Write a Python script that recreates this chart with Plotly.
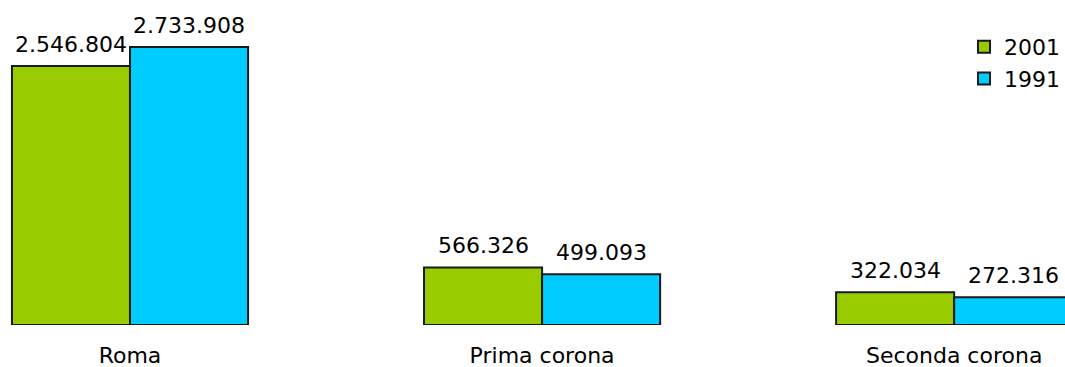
import plotly.graph_objects as go

categories = ["Roma", "Prima corona", "Seconda corona"]
values_2001 = [2546804, 566326, 322034]
values_1991 = [2733908, 499093, 272316]
labels_2001 = ["2.546.804", "566.326", "322.034"]
labels_1991 = ["2.733.908", "499.093", "272.316"]

FONT = "Verdana, DejaVu Sans, sans-serif"

fig = go.Figure()
fig.add_trace(go.Bar(
    name="2001", x=categories, y=values_2001,
    marker=dict(color="#99CC00", line=dict(color="#1a1a1a", width=2)),
))
fig.add_trace(go.Bar(
    name="1991", x=categories, y=values_1991,
    marker=dict(color="#00CCFF", line=dict(color="#1a1a1a", width=2)),
))

annotations = []
for vals, labs, shift in ((values_2001, labels_2001, -59), (values_1991, labels_1991, 59)):
    for c, v, t in zip(categories, vals, labs):
        annotations.append(dict(
            x=c, y=v, text=t, showarrow=False, xref="x", yref="y",
            xanchor="center", yanchor="bottom", xshift=shift, yshift=7,
            font=dict(size=22, color="black", family=FONT),
        ))

fig.update_layout(
    width=1065, height=367,
    margin=dict(l=0, r=0, t=0, b=42, autoexpand=False),
    paper_bgcolor="white", plot_bgcolor="white",
    barmode="group", bargap=0.427, bargroupgap=0,
    font=dict(family=FONT, size=22, color="black"),
    showlegend=True,
    legend=dict(x=1, xanchor="right", y=0.92, yanchor="top",
                font=dict(size=22), traceorder="normal",
                itemwidth=30, tracegroupgap=0, bgcolor="rgba(0,0,0,0)"),
    annotations=annotations,
)
fig.update_xaxes(range=[-0.3155, 2.269], showgrid=False, showline=False,
                 zeroline=False, ticks="", ticklabelstandoff=15,
                 tickfont=dict(size=22), automargin=False)
fig.update_yaxes(range=[0, 3196050], visible=False, automargin=False)

fig.write_html("out.html")
